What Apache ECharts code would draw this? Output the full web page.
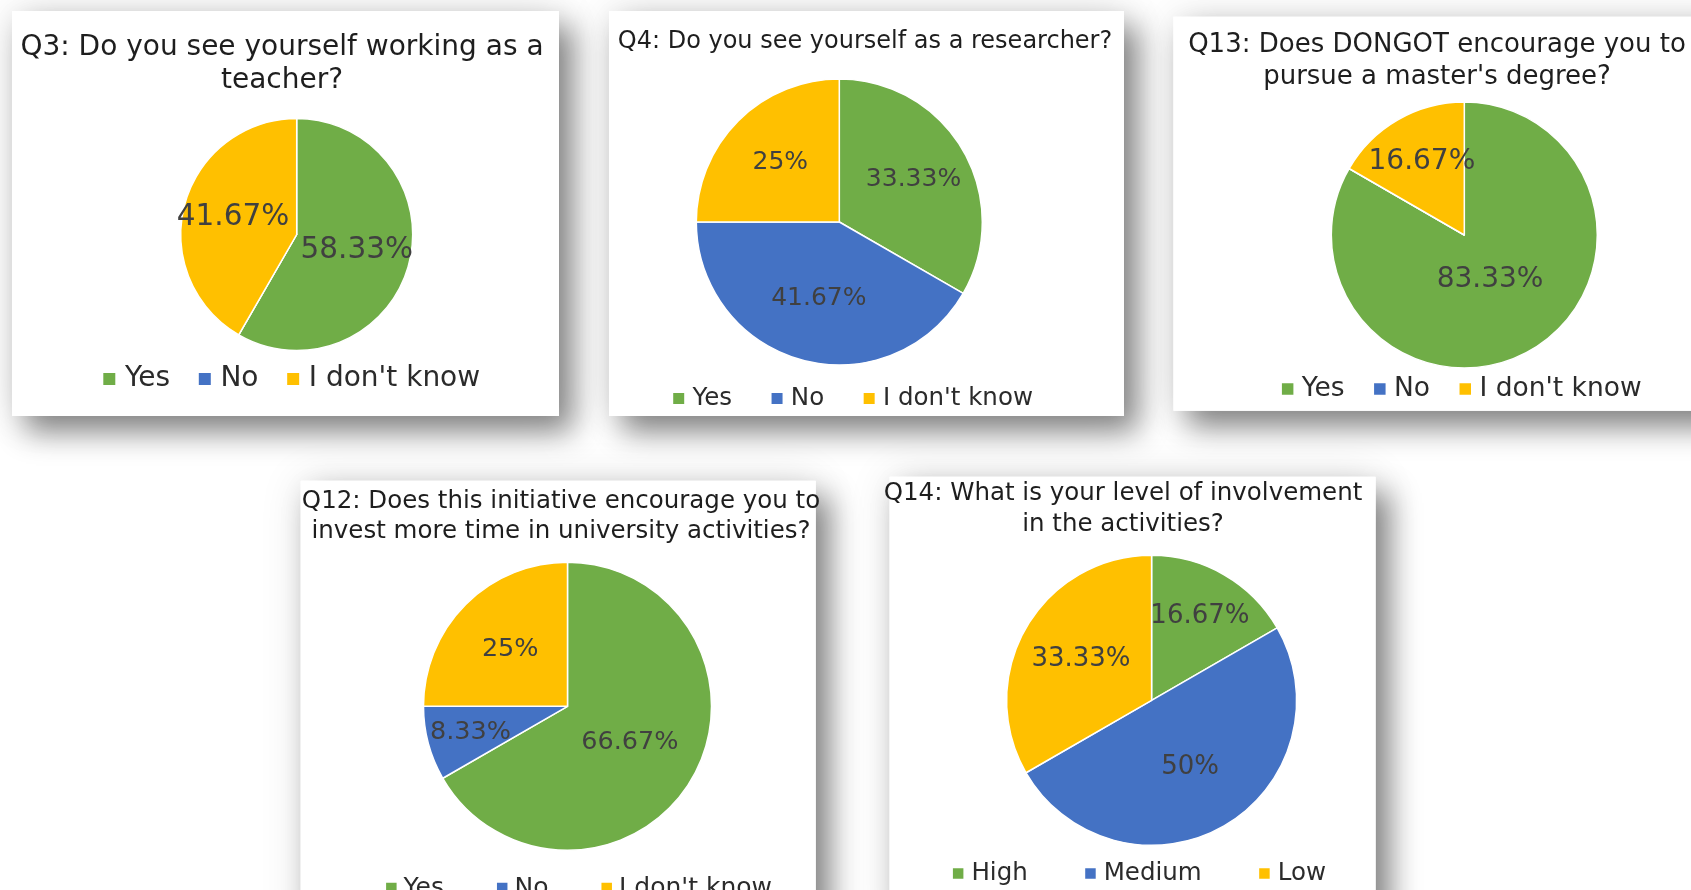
<!DOCTYPE html>
<html>
<head>
<meta charset="utf-8">
<script src="https://cdn.jsdelivr.net/npm/echarts@6/dist/echarts.min.js"></script>
<style>
  html, body { margin: 0; padding: 0; background: #ffffff; }
  #chart { width: 1691px; height: 890px; }
</style>
</head>
<body>
<div id="chart"></div>
<script>
// ---------- data ----------
const answerCategories = ['Yes', 'No', "I don't know"];
const levelCategories = ['High', 'Medium', 'Low'];
const sliceColors = ['#70AD47', '#4472C4', '#FFC000'];

const q3Title = 'Q3: Do you see yourself working as a\nteacher?';
const q3Values = [58.33, 0, 41.67];

const q4Title = 'Q4: Do you see yourself as a researcher?';
const q4Values = [33.33, 41.67, 25];

const q13Title = "Q13: Does DONGOT encourage you to\npursue a master's degree?";
const q13Values = [83.33, 0, 16.67];

const q12Title = 'Q12: Does this initiative encourage you to\ninvest more time in university activities?';
const q12Values = [66.67, 8.33, 25];

const q14Title = 'Q14: What is your level of involvement\nin the activities?';
const q14Values = [16.67, 50, 33.33];

// ---------- layout (positions / sizes / styles) ----------
const FONT = "'DejaVu Sans', 'Liberation Sans', sans-serif";
// labelRadial: how far each inside label sits along its radius, relative to the library's default (half radius)
const panels = [
  { title: q3Title, cats: answerCategories, values: q3Values,
    card: [12, 11, 547, 405], titleX: 282, titleTop: 31, titleSize: 28, titleLH: 33.4,
    center: [296.7, 234.5], r: 116, labelSize: 29.5, labelRadial: [1.02, 1, 1.08],
    legend: { left: 103.3, cy: 379, size: 28, icon: 12, pad: 4.6, gap: 28.7 } },
  { title: q4Title, cats: answerCategories, values: q4Values,
    card: [609, 11, 515, 405], titleX: 865, titleTop: 26.7, titleSize: 24, titleLH: 30,
    center: [839.3, 222], r: 143, labelSize: 25, labelRadial: [1.15, 1.06, 1.12],
    legend: { left: 673.2, cy: 398.5, size: 24.5, icon: 11, pad: 3.3, gap: 39.5 } },
  { title: q13Title, cats: answerCategories, values: q13Values,
    card: [1173.5, 16.7, 600, 394], titleX: 1437, titleTop: 29, titleSize: 26, titleLH: 32,
    center: [1464.3, 235], r: 133, labelSize: 28, labelRadial: [0.74, 1, 1.22],
    legend: { left: 1281.9, cy: 389, size: 26.5, icon: 11.5, pad: 3.4, gap: 29.5 } },
  { title: q12Title, cats: answerCategories, values: q12Values,
    card: [300.7, 480.7, 515, 450], titleX: 561, titleTop: 486.5, titleSize: 24.5, titleLH: 30,
    center: [567.5, 706.3], r: 144, labelSize: 25.5, labelRadial: [0.96, 1.34, 1.08],
    legend: { left: 386.1, cy: 888, size: 25, icon: 10.5, pad: 2, gap: 53 } },
  { title: q14Title, cats: levelCategories, values: q14Values,
    card: [889.6, 476.7, 486, 450], titleX: 1123, titleTop: 477.4, titleSize: 24.5, titleLH: 31.6,
    center: [1151.6, 700.3], r: 145, labelSize: 26, labelRadial: [1.28, 1.02, 1.08],
    legend: { left: 952.9, cy: 873.5, size: 24.5, icon: 10.5, pad: 3, gap: 57.5 } }
];

// ---------- build option ----------
const graphics = [];
panels.forEach(p => {
  const shape = { x: p.card[0], y: p.card[1], width: p.card[2], height: p.card[3] };
  graphics.push({ type: 'rect', silent: true, z: 0, shape,
    style: { fill: '#fff', shadowBlur: 40, shadowColor: 'rgba(0,0,0,0.12)', shadowOffsetX: 0, shadowOffsetY: 0 } });
  graphics.push({ type: 'rect', silent: true, z: 0, shape,
    style: { fill: '#fff', shadowBlur: 28, shadowColor: 'rgba(0,0,0,0.45)', shadowOffsetX: 14, shadowOffsetY: 16 } });
});
panels.forEach(p => {
  graphics.push({ type: 'rect', silent: true, z: 1,
    shape: { x: p.card[0], y: p.card[1], width: p.card[2], height: p.card[3] },
    style: { fill: '#fff' } });
});

const titles = panels.map(p => ({
  text: p.title,
  left: p.titleX,
  top: p.titleTop,
  textAlign: 'center',
  padding: 0,
  textStyle: { fontFamily: FONT, fontSize: p.titleSize, lineHeight: p.titleLH, fontWeight: 'normal', color: '#1e1e1e' }
}));

const legends = panels.map(p => {
  const lh = Math.round(p.legend.size * 1.2);
  return {
    data: p.cats,
    orient: 'horizontal',
    left: p.legend.left,
    top: p.legend.cy - lh / 2,
    padding: 0,
    icon: 'rect',
    itemWidth: p.legend.icon,
    itemHeight: p.legend.icon,
    itemGap: p.legend.gap,
    selectedMode: false,
    itemStyle: { borderWidth: 0 },
    textStyle: { fontFamily: FONT, fontSize: p.legend.size, lineHeight: lh, color: '#2b2b2b', padding: [0, 0, 0, p.legend.pad] }
  };
});

const series = panels.map(p => ({
  type: 'pie',
  center: p.center,
  radius: p.r,
  startAngle: 90,
  clockwise: true,
  silent: true,
  animation: false,
  avoidLabelOverlap: false,
  label: {
    show: true,
    position: 'inside',
    fontFamily: FONT,
    fontSize: p.labelSize,
    color: '#404040',
    formatter: d => (d.value === 0 ? '' : d.value + '%')
  },
  labelLayout: params => {
    const k = p.labelRadial[params.dataIndex];
    const lr = params.labelRect;
    if (!lr || !lr.width) return {};
    const lx = lr.x + lr.width / 2, ly = lr.y + lr.height / 2;
    return { dx: (k - 1) * (lx - p.center[0]), dy: (k - 1) * (ly - p.center[1]) };
  },
  labelLine: { show: false },
  itemStyle: { borderColor: '#ffffff', borderWidth: 1.5 },
  emphasis: { disabled: true },
  data: p.cats.map((name, i) => ({ name, value: p.values[i], itemStyle: { color: sliceColors[i] } }))
}));

const chart = echarts.init(document.getElementById('chart'), null, { renderer: 'canvas' });
chart.setOption({
  backgroundColor: '#ffffff',
  animation: false,
  graphic: { elements: graphics },
  title: titles,
  legend: legends,
  tooltip: { show: false },
  series
});
</script>
</body>
</html>
